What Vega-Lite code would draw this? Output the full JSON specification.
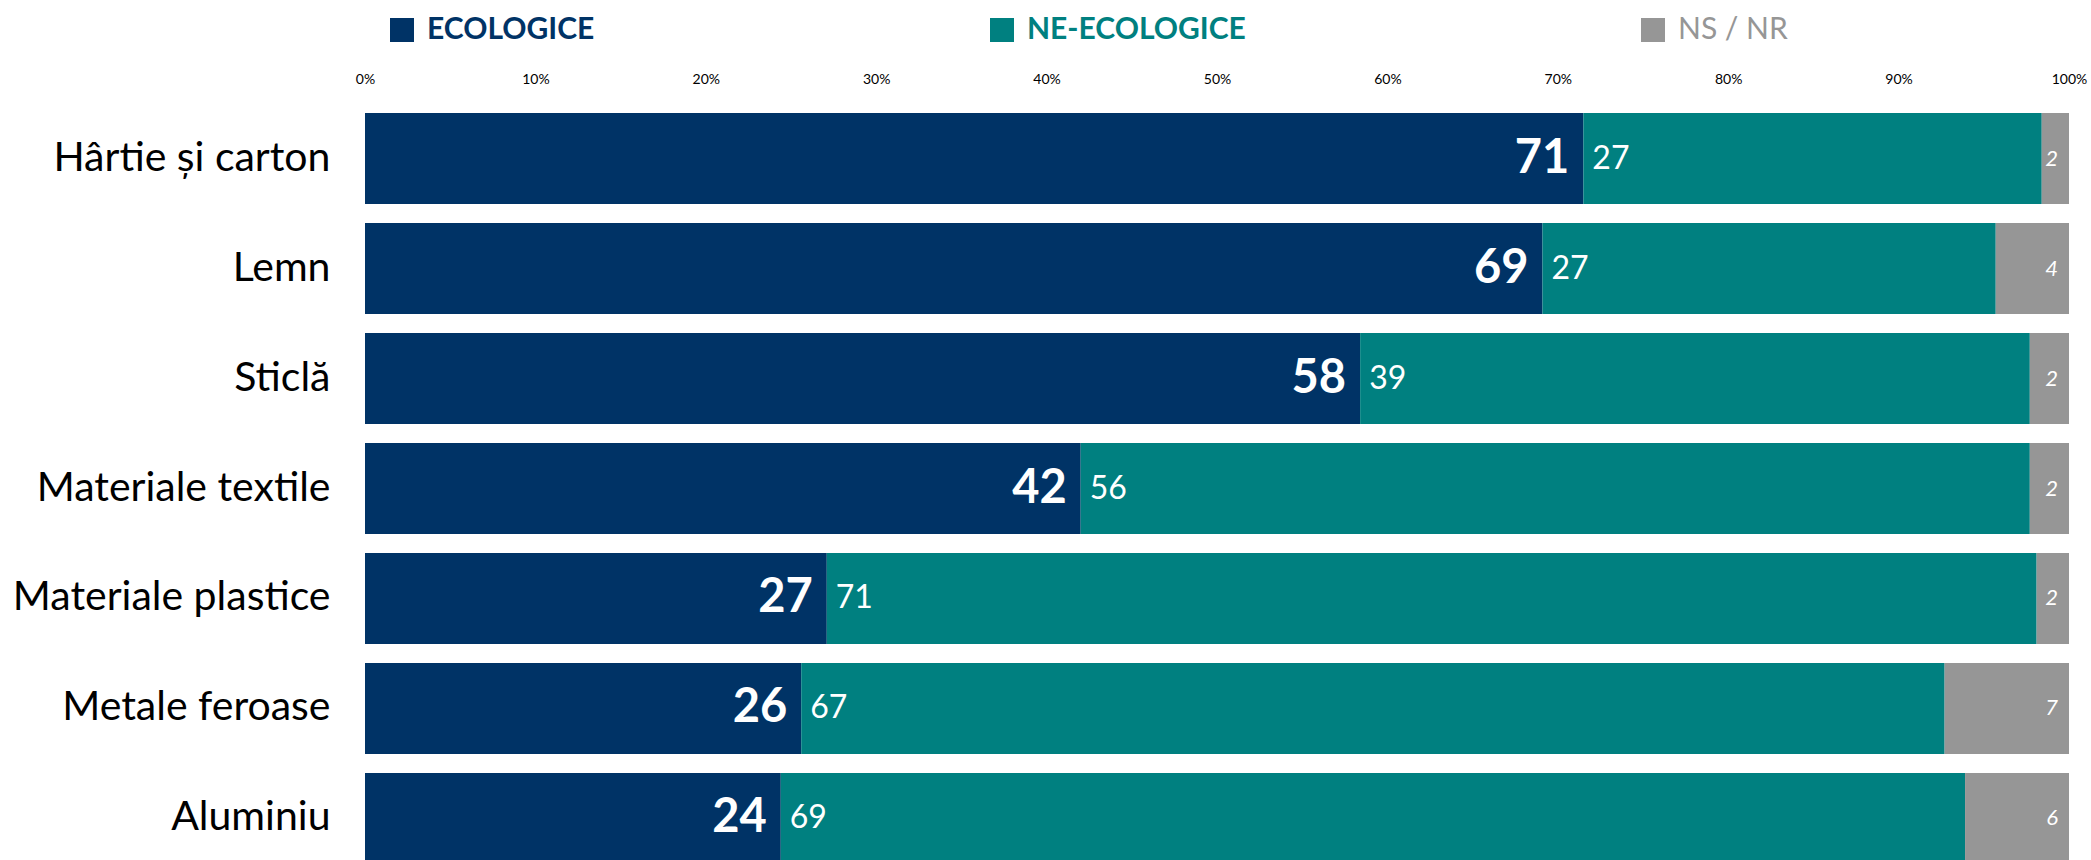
{
  "$schema": "https://vega.github.io/schema/vega-lite/v6.json",
  "autosize": {"type": "none"},
  "width": 1704,
  "height": 747,
  "padding": {"left": 365, "top": 113, "right": 22, "bottom": 0},
  "background": "white",
  "config": {
    "view": {"stroke": null},
    "font": "Lato",
    "text": {"font": "Lato"}
  },
  "data": {
    "values": [
      {"category": "Hârtie și carton", "group": "ECOLOGICE", "pct": 71.5, "label": 71},
      {"category": "Hârtie și carton", "group": "NE-ECOLOGICE", "pct": 26.9, "label": 27},
      {"category": "Hârtie și carton", "group": "NS / NR", "pct": 1.6, "label": 2},
      {"category": "Lemn", "group": "ECOLOGICE", "pct": 69.1, "label": 69},
      {"category": "Lemn", "group": "NE-ECOLOGICE", "pct": 26.6, "label": 27},
      {"category": "Lemn", "group": "NS / NR", "pct": 4.3, "label": 4},
      {"category": "Sticlă", "group": "ECOLOGICE", "pct": 58.4, "label": 58},
      {"category": "Sticlă", "group": "NE-ECOLOGICE", "pct": 39.3, "label": 39},
      {"category": "Sticlă", "group": "NS / NR", "pct": 2.3, "label": 2},
      {"category": "Materiale textile", "group": "ECOLOGICE", "pct": 42.0, "label": 42},
      {"category": "Materiale textile", "group": "NE-ECOLOGICE", "pct": 55.7, "label": 56},
      {"category": "Materiale textile", "group": "NS / NR", "pct": 2.3, "label": 2},
      {"category": "Materiale plastice", "group": "ECOLOGICE", "pct": 27.1, "label": 27},
      {"category": "Materiale plastice", "group": "NE-ECOLOGICE", "pct": 71.0, "label": 71},
      {"category": "Materiale plastice", "group": "NS / NR", "pct": 1.9, "label": 2},
      {"category": "Metale feroase", "group": "ECOLOGICE", "pct": 25.6, "label": 26},
      {"category": "Metale feroase", "group": "NE-ECOLOGICE", "pct": 67.1, "label": 67},
      {"category": "Metale feroase", "group": "NS / NR", "pct": 7.3, "label": 7},
      {"category": "Aluminiu", "group": "ECOLOGICE", "pct": 24.4, "label": 24},
      {"category": "Aluminiu", "group": "NE-ECOLOGICE", "pct": 69.5, "label": 69},
      {"category": "Aluminiu", "group": "NS / NR", "pct": 6.1, "label": 6}
    ]
  },
  "transform": [
    {"stack": "pct", "groupby": ["category"], "sort": [{"field": "group", "order": "ascending"}], "offset": "normalize", "as": ["x0", "x1"]}
  ],
  "encoding": {
    "y": {
      "field": "category",
      "type": "nominal",
      "sort": null,
      "title": null,
      "scale": {"range": [0, 751], "paddingInner": 0.1727, "paddingOuter": 0},
      "axis": {
        "domain": false,
        "ticks": false,
        "labelFontSize": 41,
        "labelFont": "Lato",
        "labelColor": "#000000",
        "labelPadding": 35,
        "labelLimit": 500
      }
    }
  },
  "layer": [
    {
      "mark": {"type": "bar", "opacity": 1},
      "encoding": {
        "x": {
          "field": "x0",
          "type": "quantitative",
          "scale": {"domain": [0, 1], "nice": false},
          "title": null,
          "axis": {
            "orient": "top",
            "format": ".0%",
            "values": [0, 0.1, 0.2, 0.3, 0.4, 0.5, 0.6, 0.7, 0.8, 0.9, 1],
            "domain": false,
            "ticks": false,
            "grid": false,
            "labelFontSize": 14,
            "labelFont": "Lato",
            "labelColor": "#000000",
            "labelPadding": 27,
            "labelFlush": false
          }
        },
        "x2": {"field": "x1"},
        "color": {
          "field": "group",
          "type": "nominal",
          "scale": {"domain": ["ECOLOGICE", "NE-ECOLOGICE", "NS / NR"], "range": ["#003366", "#008080", "#969696"]},
          "legend": {
            "title": null,
            "orient": "none",
            "direction": "horizontal",
            "columns": 3,
            "legendX": 22,
            "legendY": -98,
            "symbolType": "square",
            "symbolSize": 576,
            "symbolStrokeWidth": 0,
            "symbolOpacity": 1,
            "labelFont": "Lato",
            "labelFontSize": 30,
            "labelOffset": 10,
            "columnPadding": 392,
            "labelLimit": 400,
            "encode": {
              "labels": {
                "update": {
                  "fill": {"signal": "datum.label === 'ECOLOGICE' ? '#003366' : datum.label === 'NE-ECOLOGICE' ? '#008080' : '#969696'"},
                  "fontWeight": {"signal": "datum.label === 'NS / NR' ? 'normal' : 'bold'"}
                }
              }
            }
          }
        }
      }
    },
    {
      "transform": [{"filter": "datum.group === 'ECOLOGICE'"}],
      "mark": {"type": "text", "align": "right", "baseline": "middle", "dx": -14, "fontSize": 47, "fontWeight": "bold", "color": "white", "font": "Lato"},
      "encoding": {
        "x": {"field": "x1", "type": "quantitative"},
        "text": {"field": "label", "type": "quantitative"}
      }
    },
    {
      "transform": [{"filter": "datum.group === 'NE-ECOLOGICE'"}],
      "mark": {"type": "text", "align": "left", "baseline": "middle", "dx": 9, "fontSize": 32, "color": "white", "font": "Lato"},
      "encoding": {
        "x": {"field": "x0", "type": "quantitative"},
        "text": {"field": "label", "type": "quantitative"}
      }
    },
    {
      "transform": [{"filter": "datum.group === 'NS / NR'"}],
      "mark": {"type": "text", "align": "right", "baseline": "middle", "dx": -11, "fontSize": 22, "fontStyle": "italic", "color": "white", "font": "Lato"},
      "encoding": {
        "x": {"field": "x1", "type": "quantitative"},
        "text": {"field": "label", "type": "quantitative"}
      }
    }
  ]
}
